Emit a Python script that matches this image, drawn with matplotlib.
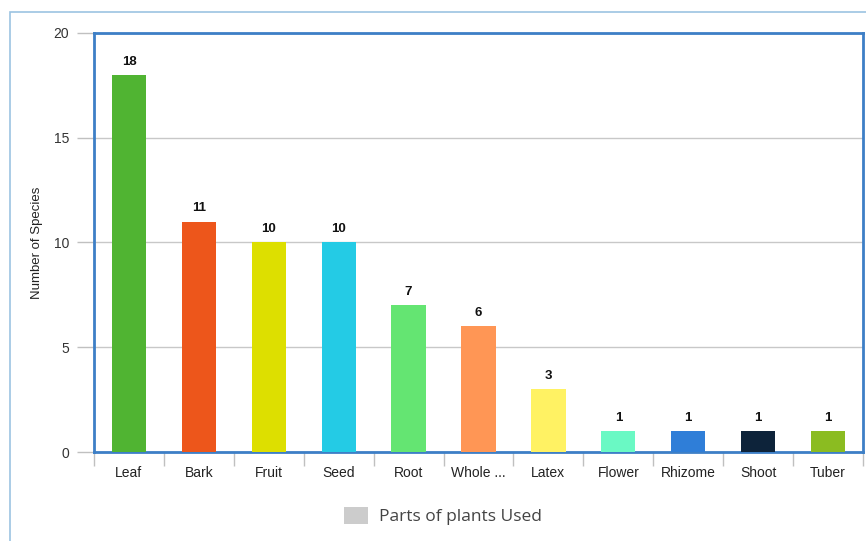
import matplotlib
matplotlib.use("Agg")
import matplotlib.pyplot as plt
from matplotlib.patches import Rectangle, Patch
import numpy as np

categories = ["Leaf", "Bark", "Fruit", "Seed", "Root", "Whole ...", "Latex",
              "Flower", "Rhizome", "Shoot", "Tuber"]
values = [18, 11, 10, 10, 7, 6, 3, 1, 1, 1, 1]
colors = ["#50B432", "#ED561B", "#DDDF00", "#24CBE5", "#64E572", "#FF9655",
          "#FFF263", "#6AF9C4", "#2F7ED8", "#0D233A", "#8BBC21"]
y_ticks = [0, 5, 10, 15, 20]
legend_label = "Parts of plants Used"
y_label = "Number of Species"

plt.rcParams["font.family"] = ["Liberation Sans", "DejaVu Sans"]

W, H = 866, 541
fig = plt.figure(figsize=(W / 100, H / 100), dpi=100)
fig.patch.set_facecolor("white")

# outer frame
fig.patches.append(Rectangle((10 / W, -0.1), 1.2, (H - 12) / H + 0.1,
                             transform=fig.transFigure, fill=False,
                             edgecolor="#9cc3e2", linewidth=1.2))

ax = fig.add_axes([94 / W, 1 - 452 / H, (863 - 94) / W, (452 - 33) / H])
x = np.arange(len(categories))
ax.bar(x, values, width=0.49, color=colors, zorder=3)
for xi, v in zip(x, values):
    ax.text(xi, v + 0.35, str(v), ha="center", va="bottom", fontsize=9.5,
            fontweight="bold", color="#111111", zorder=4)

ax.set_xlim(-0.5, len(categories) - 0.5)
ax.set_ylim(0, 20)
ax.set_yticks(y_ticks)
ax.set_yticklabels([str(t) for t in y_ticks], fontsize=10, color="#333333")
ax.yaxis.grid(True, color="#c8c8c8", linewidth=1, zorder=0)
ax.set_axisbelow(True)

ax.set_xticks(x)
ax.set_xticklabels(categories, fontsize=10, color="#222222")
ax.tick_params(axis="x", which="major", length=0, pad=10)
ax.set_xticks(np.arange(-0.5, len(categories)), minor=True)
ax.tick_params(axis="x", which="minor", length=10, color="#c0c0c0", width=1)
ax.tick_params(axis="y", length=12, color="#c0c0c0", width=1, pad=6)

for s in ax.spines.values():
    s.set_color("#3d7fc6")
    s.set_linewidth(2)

ax.set_ylabel(y_label, fontsize=9.5, color="#222222")
ax.yaxis.set_label_coords(-0.066, 0.5)

fig.legend(handles=[Patch(facecolor="#cccccc", edgecolor="none")],
           labels=[legend_label], loc="center", bbox_to_anchor=(443 / W, 1 - 516 / H),
           frameon=False, handlelength=1.4, handleheight=1.2, handletextpad=0.6,
           prop={"family": "Open Sans", "size": 12.5})
leg = fig.legends[0]
for t in leg.get_texts():
    t.set_color("#444444")

fig.savefig("out.png", dpi=100)
